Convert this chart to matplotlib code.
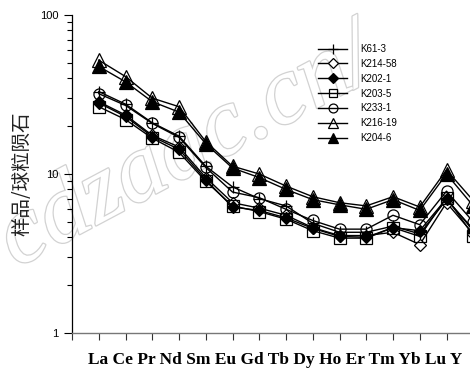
import matplotlib
matplotlib.use('Agg')
import matplotlib.pyplot as plt
import matplotlib.patheffects as pe
from matplotlib.ticker import LogLocator, NullFormatter, FixedLocator
import numpy as np

elements = ['La', 'Ce', 'Pr', 'Nd', 'Sm', 'Eu', 'Gd', 'Tb', 'Dy', 'Ho', 'Er', 'Tm', 'Yb', 'Lu', 'Y']

k61_3 = [33, 27.5, 21, 17.3, 11.2, 8.3, 7.0, 6.3, 4.9, 4.3, 4.3, 4.7, 4.2, 6.9, 4.5]
k214_58 = [28.5, 23.5, 17.5, 14.8, 9.5, 6.6, 6.1, 5.5, 4.6, 4.1, 4.1, 4.3, 3.6, 6.6, 4.2]
k202_1 = [28, 23, 17.2, 14.3, 9.2, 6.2, 5.9, 5.3, 4.55, 4.05, 4.0, 4.6, 4.4, 7.0, 4.4]
k203_5 = [26.5, 22, 16.8, 13.7, 9.0, 6.3, 5.8, 5.2, 4.4, 3.95, 3.95, 4.6, 4.05, 7.1, 4.1]
k233_1 = [32, 27, 20.8, 17, 11, 7.7, 7.1, 6.0, 5.1, 4.5, 4.5, 5.5, 4.8, 7.8, 5.0]
k216_19 = [52, 41, 30, 26.5, 16, 11.2, 10, 8.4, 7.2, 6.6, 6.3, 7.2, 6.2, 10.6, 6.8]
k204_6 = [47.5, 38, 28.5, 24.5, 15.5, 10.9, 9.5, 8.0, 6.9, 6.4, 6.0, 6.9, 5.9, 10.0, 6.3]

series = [
    ('K61-3', k61_3, dict(marker='+', ms=9, mfc='none')),
    ('K214-58', k214_58, dict(marker='D', ms=6, mfc='white')),
    ('K202-1', k202_1, dict(marker='D', ms=6, mfc='black')),
    ('K203-5', k203_5, dict(marker='s', ms=8, mfc='none')),
    ('K233-1', k233_1, dict(marker='o', ms=8, mfc='none')),
    ('K216-19', k216_19, dict(marker='^', ms=9.5, mfc='none')),
    ('K204-6', k204_6, dict(marker='^', ms=9.5, mfc='black')),
]

W, H = 470, 377
fig = plt.figure(figsize=(W / 100, H / 100), dpi=100)
step = 26.75
xmax = 15.6
left_px, bottom_px, top_px = 72, 333, 15
ax = fig.add_axes([left_px / W, 1 - bottom_px / H, xmax * step / W, (bottom_px - top_px) / H])

# watermark
ax.text(16 / W, 1 - 268 / H, 'cdzaac.cn/', transform=fig.transFigure, rotation=28,
        rotation_mode='anchor', ha='left', va='baseline', fontsize=70,
        family='Liberation Serif', style='italic', color='white', zorder=1, clip_on=False,
        path_effects=[pe.withStroke(linewidth=1.8, foreground='#d2d2d2')])

x = np.arange(1, len(elements) + 1)
for name, vals, st in series:
    ax.plot(x, vals, color='black', lw=1.0, mec='black', mew=0.9, label=name, zorder=3,
            clip_on=True, **st)

ax.set_yscale('log')
ax.set_ylim(1, 100)
ax.set_xlim(0, xmax)
ax.yaxis.set_major_locator(FixedLocator([1, 10, 100]))
ax.set_yticklabels(['1', '10', '100'], family='Liberation Sans', fontsize=8)
ax.yaxis.set_minor_locator(LogLocator(base=10, subs=np.arange(2, 10)))
ax.yaxis.set_minor_formatter(NullFormatter())
ax.set_xticks(np.arange(0, 16))
ax.set_xticklabels([])
ax.tick_params(axis='y', which='major', direction='out', length=6, width=0.8, pad=4)
ax.tick_params(axis='y', which='minor', direction='out', length=3.5, width=0.8)
ax.tick_params(axis='x', which='major', direction='out', length=5, width=0.8, color='#333333')
for s in ['top', 'right']:
    ax.spines[s].set_visible(False)
ax.spines['left'].set_linewidth(0.9)
ax.spines['bottom'].set_color('#777777')
ax.spines['bottom'].set_linewidth(1.0)

fig.text(22 / W, 1 - 174 / H, '样品/球粒陨石', rotation=90, ha='center', va='center',
         fontsize=14, family=['Noto Sans CJK SC', 'DejaVu Sans'], fontweight='light',
         color='#222222')

fig.text(275 / W, 1 - 360 / H, ' '.join(elements), ha='center', va='center',
         fontsize=12.5, family='Liberation Serif', fontweight='bold')

leg = ax.legend(loc='upper left', bbox_to_anchor=(318 / W, 1 - 44 / H),
                bbox_transform=fig.transFigure, frameon=False,
                prop={'family': 'Liberation Sans', 'size': 7},
                handlelength=3.0, handletextpad=1.3, labelspacing=0.5,
                borderpad=0, borderaxespad=0, markerscale=0.8)

fig.savefig('out.png', dpi=100)
